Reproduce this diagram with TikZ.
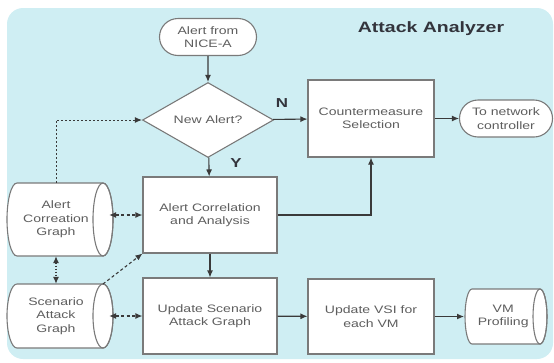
\documentclass[tikz,border=0pt]{standalone}
\usepackage{fontspec}
\setmainfont{Liberation Sans}
\newfontfamily\widefont[FakeStretch=1.3]{Liberation Sans}
\usetikzlibrary{shapes.geometric,shapes.misc,arrows.meta}
\definecolor{bgcyan}{HTML}{CFEEF3}
\definecolor{bordergray}{HTML}{7A7A7A}
\definecolor{linegray}{HTML}{3A3A3A}
\definecolor{textgray}{HTML}{5E5E5E}
\definecolor{titlecol}{HTML}{33343C}
\tikzset{
  txt/.style={font=\widefont\fontsize{10.8}{13.5}\selectfont, text=textgray, align=center},
  box/.style={txt, draw=bordergray, line width=1.1pt, fill=white, inner sep=1pt},
  stadium/.style={box, rounded rectangle},
  decision/.style={box, diamond, aspect=1.75, inner sep=0pt},
  cylline/.style={draw=bordergray, line width=1.1pt, fill=white},
  arr/.style={draw=linegray, line width=1.1pt, -{Latex[length=7pt,width=6pt]}},
  dasharr/.style={draw=linegray, line width=1.1pt, dash pattern=on 3pt off 2.5pt},
  lbl/.style={font=\widefont\bfseries\fontsize{13}{15}\selectfont, text=titlecol},
}
% name, cx, cy, w, h, rx, text
\newcommand\mycyl[7]{%
  \pgfmathsetmacro\cL{#2-#4/2}\pgfmathsetmacro\cR{#2+#4/2}%
  \pgfmathsetmacro\cT{#3-#5/2}\pgfmathsetmacro\cB{#3+#5/2}%
  \pgfmathsetmacro\cry{#5/2}%
  \filldraw[cylline] (\cL+#6,\cT) -- (\cR-#6,\cT)
     arc[start angle=90,end angle=-90,x radius=#6pt,y radius=\cry pt]
     -- (\cL+#6,\cB)
     arc[start angle=270,end angle=90,x radius=#6pt,y radius=\cry pt] -- cycle;
  \draw[cylline, fill=none] (\cR-#6,#3) ellipse[x radius=#6pt, y radius=\cry pt];
  \coordinate (#1-tr) at (\cR-#6,\cT);
  \node[txt, minimum width=#4pt, minimum height=#5pt, inner sep=0pt] (#1) at (#2-#6/2.5,#3) {#7};
}
\begin{document}
\begin{tikzpicture}[x=1pt,y=-1pt]
\useasboundingbox (0,0) rectangle (554,362);
\fill[bgcyan, rounded corners=16pt] (7,8) rectangle (553,359);

\node[lbl, font=\widefont\bfseries\fontsize{15}{17}\selectfont] (title) at (431,29) {Attack Analyzer};

\node[stadium, minimum width=99pt, minimum height=37pt] (alert) at (208,37) {Alert from\\NICE-A};
\node[decision, minimum width=131pt, minimum height=75pt] (new) at (208,120) {New Alert?};
\node[box, minimum width=126pt, minimum height=77pt] (cm) at (371,118.5) {Countermeasure\\Selection};
\node[stadium, minimum width=95pt, minimum height=37pt] (net) at (506,118.5) {To network\\controller};
\node[box, minimum width=134pt, minimum height=76pt] (aca) at (210,215) {Alert Correlation\\and Analysis};
\node[box, minimum width=134pt, minimum height=76pt] (usag) at (210,316) {Update Scenario\\Attack Graph};
\node[box, minimum width=126pt, minimum height=75pt] (vsi) at (371,316.5) {Update VSI for\\each VM};
\mycyl{acg}{60}{219.5}{106}{73}{10}{Alert\\Correation\\Graph}
\mycyl{sag}{60}{316}{106}{64}{10}{Scenario\\Attack\\Graph}
\mycyl{vm}{506}{316.5}{82}{55}{7}{VM\\Profiling}

\node[lbl] (nlab) at (282,103) {N};
\node[lbl] (ylab) at (236,163) {Y};

\draw[arr] (alert) -- (new);
\draw[arr] (new) -- (cm);
\draw[arr] (cm) -- (net);
\draw[arr] (new) -- (aca);
\draw[arr] (aca.east) -| (cm.south);
\draw[arr] (aca) -- (usag);
\draw[arr] (usag) -- (vsi);
\draw[arr] (vsi) -- ([xshift=2pt]vm.west);

\draw[dasharr, {Latex[length=7pt,width=6pt]}-{Latex[length=7pt,width=6pt]}] (aca.west -| acg.east) -- (aca.west);
\draw[dasharr, {Latex[length=7pt,width=6pt]}-{Latex[length=7pt,width=6pt]}] (sag.east) -- (usag.west);
\draw[draw=linegray, line width=1.1pt, dash pattern=on 1.5pt off 1.5pt, {Latex[length=7pt,width=6pt]}-{Latex[length=7pt,width=6pt]}] (acg.south) -- (sag.north);
\draw[dasharr, -{Latex[length=7pt,width=6pt]}] (sag-tr) -- (aca.south west);
\draw[draw=linegray, line width=1pt, dash pattern=on 2pt off 2pt, -{Latex[length=7pt,width=6pt]}] (acg.north) |- (new.west);
\end{tikzpicture}
\end{document}
